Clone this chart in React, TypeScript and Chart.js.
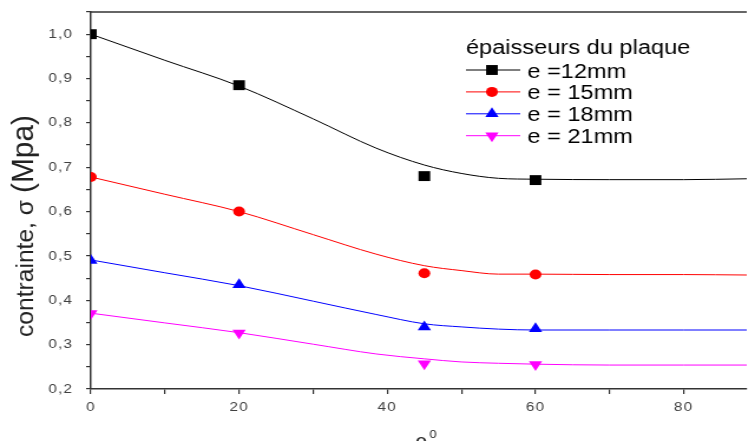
import React, { useEffect, useRef } from 'react';
import { Chart, registerables } from 'chart.js';

Chart.register(...registerables);

// Measured stress (MPa) at each angle, one list per plate thickness
const angles = [0, 20, 45, 60];
const stress12 = [1.0, 0.885, 0.68, 0.671];
const stress15 = [0.678, 0.6, 0.461, 0.458];
const stress18 = [0.49, 0.435, 0.34, 0.336];
const stress21 = [0.37, 0.326, 0.257, 0.255];

// Fitted trend curves
const fitAngles = [0, 10, 20, 30, 38.5, 45, 50, 55, 60, 70, 80, 88.5];
const fit12 = [1.0, 0.941, 0.883, 0.809, 0.743, 0.705, 0.686, 0.675, 0.673, 0.672, 0.672, 0.674];
const fit15 = [0.678, 0.639, 0.6, 0.548, 0.504, 0.478, 0.467, 0.459, 0.459, 0.458, 0.458, 0.457];
const fit18 = [0.491, 0.462, 0.433, 0.398, 0.368, 0.347, 0.34, 0.335, 0.333, 0.333, 0.333, 0.333];
const fit21 = [0.371, 0.349, 0.327, 0.301, 0.279, 0.268, 0.261, 0.258, 0.256, 0.254, 0.254, 0.254];

const seriesNames = ['e =12mm', 'e = 15mm', 'e = 18mm', 'e = 21mm'];
const seriesColors = ['#000000', '#ff0000', '#0000ff', '#ff00ff'];
const legendTitle = 'épaisseurs du plaque';

const xLabelValues = [0, 20, 40, 60, 80];
const yLabelValues = [0.2, 0.3, 0.4, 0.5, 0.6, 0.7, 0.8, 0.9, 1.0];

const xMin = 0;
const xMax = 88.5;
const yMin = 0.2;
const yMax = 1.05;

const CANVAS_W = 640;
const CANVAS_H = 441;
const FONT = '"Liberation Sans", Arial, Helvetica, sans-serif';

type Shape = 'rect' | 'circle' | 'triangle' | 'triangleDown';
const seriesShapes: Shape[] = ['rect', 'circle', 'triangle', 'triangleDown'];
const shapeRadius: Record<Shape, number> = { rect: 7, circle: 5, triangle: 6.5, triangleDown: 6.5 };

function pts(xs: number[], ys: number[]) {
  return xs.map((x, i) => ({ x, y: ys[i] }));
}

function drawMarker(ctx: CanvasRenderingContext2D, shape: Shape, x: number, y: number, color: string) {
  const r = shapeRadius[shape];
  ctx.fillStyle = color;
  ctx.beginPath();
  if (shape === 'rect') {
    const h = r * Math.SQRT1_2;
    ctx.rect(x - h, y - h, 2 * h, 2 * h);
  } else if (shape === 'circle') {
    ctx.arc(x, y, r, 0, Math.PI * 2);
  } else if (shape === 'triangle') {
    ctx.moveTo(x, y - r);
    ctx.lineTo(x + 0.866 * r, y + 0.5 * r);
    ctx.lineTo(x - 0.866 * r, y + 0.5 * r);
  } else {
    ctx.moveTo(x, y + r);
    ctx.lineTo(x + 0.866 * r, y - 0.5 * r);
    ctx.lineTo(x - 0.866 * r, y - 0.5 * r);
  }
  ctx.closePath();
  ctx.fill();
}

// Text squeezed/stretched along its run to a given length
function fittedText(ctx: CanvasRenderingContext2D, text: string, font: string, length: number) {
  ctx.font = font;
  const w = ctx.measureText(text).width;
  ctx.save();
  ctx.scale(length / w, 1);
  ctx.fillText(text, 0, 0);
  ctx.restore();
}

const tickSpacing = {
  id: 'tickSpacing',
  beforeDraw(chart: Chart) {
    (chart.ctx as any).letterSpacing = '1px';
  },
  beforeDatasetsDraw(chart: Chart) {
    (chart.ctx as any).letterSpacing = '0px';
  },
};

const decorations = {
  id: 'decorations',
  afterDraw(chart: Chart) {
    const ctx = chart.ctx;
    const area = chart.chartArea;
    ctx.save();

    // upper frame line
    ctx.strokeStyle = '#333';
    ctx.lineWidth = 1.5;
    ctx.beginPath();
    ctx.moveTo(area.left, area.top);
    ctx.lineTo(area.right, area.top);
    ctx.stroke();

    // legend
    const lx = 395;
    ctx.fillStyle = '#000';
    ctx.textBaseline = 'alphabetic';
    ctx.textAlign = 'left';
    ctx.font = `20px ${FONT}`;
    ctx.fillText(legendTitle, lx, 54);
    seriesNames.forEach((name, i) => {
      const cy = 70 + 21.9 * i;
      ctx.strokeStyle = seriesColors[i];
      ctx.lineWidth = 1;
      ctx.beginPath();
      ctx.moveTo(lx, cy);
      ctx.lineTo(lx + 46, cy);
      ctx.stroke();
      drawMarker(ctx, seriesShapes[i], lx + 22, cy, seriesColors[i]);
      ctx.fillStyle = '#000';
      ctx.font = `20px ${FONT}`;
      ctx.fillText(name, lx + 52, cy + 7.5);
    });

    // y axis title
    ctx.fillStyle = '#222';
    ctx.save();
    ctx.translate(28, 337);
    ctx.rotate(-Math.PI / 2);
    fittedText(ctx, 'contrainte, σ', `21px ${FONT}`, 137);
    ctx.translate(144, 0);
    fittedText(ctx, '(Mpa)', `25px ${FONT}`, 78);
    ctx.restore();

    // x axis title
    const xc = (area.left + area.right) / 2;
    ctx.font = `20px ${FONT}`;
    ctx.textAlign = 'center';
    ctx.fillText('θ', xc + 2, 452);
    ctx.font = `11px ${FONT}`;
    ctx.textAlign = 'left';
    ctx.fillText('0', xc + 9, 438);

    ctx.restore();
  },
};

export default function App() {
  const ref = useRef<HTMLCanvasElement>(null);

  useEffect(() => {
    if (!ref.current) return;
    const fits = [fit12, fit15, fit18, fit21];
    const marks = [stress12, stress15, stress18, stress21];

    const markerSets = marks.map((ys, i) => ({
      label: seriesNames[i],
      data: pts(angles, ys),
      showLine: false,
      pointStyle: seriesShapes[i] === 'triangleDown' ? 'triangle' : seriesShapes[i],
      rotation: seriesShapes[i] === 'triangleDown' ? 180 : 0,
      pointRadius: shapeRadius[seriesShapes[i]],
      pointBackgroundColor: seriesColors[i],
      pointBorderColor: seriesColors[i],
      pointBorderWidth: 0,
      backgroundColor: seriesColors[i],
      borderColor: seriesColors[i],
    }));
    const lineSets = fits.map((ys, i) => ({
      label: seriesNames[i] + ' fit',
      data: pts(fitAngles, ys),
      showLine: true,
      pointRadius: 0,
      borderColor: seriesColors[i],
      borderWidth: 1,
      cubicInterpolationMode: 'monotone' as const,
      fill: false,
    }));

    const chart = new Chart(ref.current, {
      type: 'scatter',
      data: { datasets: [...markerSets, ...lineSets] as any },
      options: {
        responsive: false,
        maintainAspectRatio: false,
        animation: false,
        layout: { padding: { left: 0, top: 12, right: 0, bottom: 0 } },
        plugins: { legend: { display: false }, tooltip: { enabled: false } },
        scales: {
          x: {
            type: 'linear',
            position: 'bottom',
            min: xMin,
            max: xMax,
            afterFit: (s: any) => { s.height = 52; s.paddingLeft = 0; s.paddingRight = 0; },
            grid: { display: true, drawOnChartArea: false, drawTicks: true, tickLength: 5, color: '#333', lineWidth: 1.2 },
            border: { display: true, color: '#333', width: 1.5 },
            ticks: {
              stepSize: 10,
              includeBounds: false,
              autoSkip: false,
              maxRotation: 0,
              padding: 6,
              color: '#404040',
              font: { family: FONT, size: 13 },
              callback: (v: any) => (xLabelValues.includes(Number(v)) ? String(v) : ''),
            },
          },
          y: {
            type: 'linear',
            min: yMin,
            max: yMax,
            afterFit: (s: any) => { s.width = 77; s.paddingTop = 0; s.paddingBottom = 0; },
            grid: { display: true, drawOnChartArea: false, drawTicks: true, tickLength: 4, color: '#333', lineWidth: 1.2 },
            border: { display: true, color: '#333', width: 1.5 },
            ticks: {
              stepSize: 0.05,
              autoSkip: false,
              padding: 11,
              color: '#404040',
              font: { family: FONT, size: 13 },
              callback: (v: any) => {
                const n = Number(v);
                const hit = yLabelValues.find((t) => Math.abs(t - n) < 1e-6);
                return hit === undefined ? '' : hit.toFixed(1).replace('.', ',');
              },
            },
          },
        },
      },
      plugins: [tickSpacing, decorations],
    });
    return () => chart.destroy();
  }, []);

  return (
    <div style={{ position: 'absolute', left: 0, top: 0, width: 755, height: 441, overflow: 'hidden', background: '#fff' }}>
      <canvas
        ref={ref}
        width={CANVAS_W}
        height={CANVAS_H}
        style={{ display: 'block', width: '755px', height: '441px' }}
      />
    </div>
  );
}
